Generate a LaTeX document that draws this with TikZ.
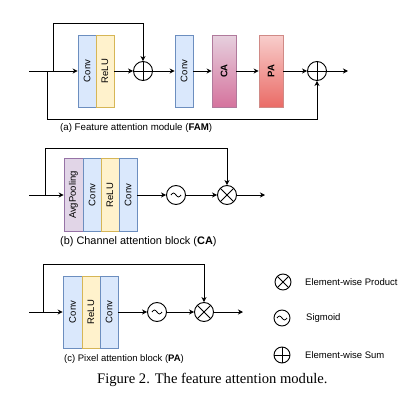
\documentclass[tikz,border=0pt]{standalone}
\usepackage{fontspec}
\setmainfont{Liberation Sans}
\newfontfamily\serifcap{Liberation Serif}
\usetikzlibrary{arrows.meta}
\definecolor{convfill}{HTML}{DAE8FC}
\definecolor{convdraw}{HTML}{6C8EBF}
\definecolor{relufill}{HTML}{FFF2CC}
\definecolor{reludraw}{HTML}{D6B656}
\definecolor{avgfill}{HTML}{E1D5E7}
\definecolor{avgdraw}{HTML}{9673A6}
\definecolor{catop}{HTML}{E6D0DE}
\definecolor{cabot}{HTML}{D5739D}
\definecolor{cadraw}{HTML}{B07A9C}
\definecolor{patop}{HTML}{F8CECC}
\definecolor{pabot}{HTML}{EA6B66}
\definecolor{padraw}{HTML}{D08A86}
\begin{document}
\begin{tikzpicture}[x=1pt,y=-1pt,
  blk/.style={draw, line width=0.6pt, inner sep=0, minimum width=18pt, minimum height=72pt, font=\fontsize{9.5}{11}\selectfont},
  conv/.style={blk, fill=convfill, draw=convdraw},
  relu/.style={blk, fill=relufill, draw=reludraw},
  avg/.style={blk, fill=avgfill, draw=avgdraw},
  cablk/.style={blk, top color=catop, bottom color=cabot, draw=cadraw, minimum width=24pt},
  pablk/.style={blk, top color=patop, bottom color=pabot, draw=padraw, minimum width=24pt},
  opc/.style={circle, draw, line width=0.9pt, minimum size=19pt, inner sep=0},
  opplus/.style={opc, path picture={\draw[line width=0.9pt] (path picture bounding box.north) -- (path picture bounding box.south) (path picture bounding box.west) -- (path picture bounding box.east);}},
  optimes/.style={opc, path picture={\draw[line width=0.9pt] (path picture bounding box.north east) -- (path picture bounding box.south west) (path picture bounding box.north west) -- (path picture bounding box.south east);}},
  opsig/.style={opc, path picture={\draw[line width=0.8pt] ([xshift=-5pt]path picture bounding box.center) sin ++(2.5pt,2pt) cos ++(2.5pt,-2pt) sin ++(2.5pt,-2pt) cos ++(2.5pt,2pt);}},
  arr/.style={line width=0.9pt, -{Stealth[length=5pt,width=5pt,inset=1.5pt]}},
  captxt/.style={anchor=west, inner sep=0},
  legtxt/.style={anchor=west, inner sep=0, font=\fontsize{9.5}{11}\selectfont}
]
\useasboundingbox (0,0) rectangle (416,407);

% (a) FAM
\coordinate (ain) at (29,71);
\coordinate (askA) at (53,71);
\coordinate (askAt) at (53,23);
\coordinate (askB) at (47,71);
\coordinate (askBb) at (47,119);
\node[conv] (aconv1) at (87,71) {\rotatebox{90}{Conv}};
\node[relu] (arelu) at (105,71) {\rotatebox{90}{ReLU}};
\node[opplus] (aplus1) at (143,71) {};
\node[conv] (aconv2) at (184,71) {\rotatebox{90}{Conv}};
\node[cablk] (aca) at (224,71) {\rotatebox{90}{\textbf{CA}}};
\node[pablk] (apa) at (271,71) {\rotatebox{90}{\textbf{PA}}};
\node[opplus] (aplus2) at (317,71) {};
\coordinate (aout) at (348,71);
\draw[arr] (ain) -- (aconv1);
\draw[arr] (askA) -- (askAt) -| (aplus1);
\draw[arr] (askB) -- (askBb) -| (aplus2);
\draw[arr] (arelu) -- (aplus1);
\draw[arr] (aplus1) -- (aconv2);
\draw[arr] (aconv2) -- (aca);
\draw[arr] (aca) -- (apa);
\draw[arr] (apa) -- (aplus2);
\draw[arr] (aplus2) -- (aout);
\node[captxt, font=\fontsize{9.7}{11}\selectfont] (acap) at (60,128) {(a) Feature attention module (\textbf{FAM})};

% (b) CA
\coordinate (bin) at (29,195);
\coordinate (bsk) at (45,195);
\coordinate (bskt) at (45,148);
\node[avg, minimum width=19pt, minimum height=73pt] (bavg) at (73.5,195) {\rotatebox{90}{AvgPooling}};
\node[conv, minimum height=73pt] (bconv1) at (92,195) {\rotatebox{90}{Conv}};
\node[relu, minimum height=73pt] (brelu) at (110,195) {\rotatebox{90}{ReLU}};
\node[conv, minimum height=73pt] (bconv2) at (128,195) {\rotatebox{90}{Conv}};
\node[opsig] (bsig) at (176,195) {};
\node[optimes] (btimes) at (227,195) {};
\coordinate (bout) at (265,195);
\draw[arr] (bin) -- (bavg);
\draw[arr] (bsk) -- (bskt) -| (btimes);
\draw[arr] (bconv2) -- (bsig);
\draw[arr] (bsig) -- (btimes);
\draw[arr] (btimes) -- (bout);
\node[captxt, font=\fontsize{10.9}{12}\selectfont] (bcap) at (60,242) {(b) Channel attention block (\textbf{CA})};

% (c) PA
\coordinate (cin) at (29,312);
\coordinate (csk) at (43,312);
\coordinate (cskt) at (43,264);
\node[conv, minimum width=19pt] (cconv1) at (72.5,312) {\rotatebox{90}{Conv}};
\node[relu] (crelu) at (91,312) {\rotatebox{90}{ReLU}};
\node[conv] (cconv2) at (109,312) {\rotatebox{90}{Conv}};
\node[opsig] (csig) at (157,312) {};
\node[optimes] (ctimes) at (204,312) {};
\coordinate (cout) at (243,312);
\draw[arr] (cin) -- (cconv1);
\draw[arr] (csk) -- (cskt) -| (ctimes);
\draw[arr] (cconv2) -- (csig);
\draw[arr] (csig) -- (ctimes);
\draw[arr] (ctimes) -- (cout);
\node[captxt, font=\fontsize{9.5}{11}\selectfont] (ccap) at (64,359) {(c) Pixel attention block (\textbf{PA})};

% legend
\node[optimes, minimum size=16pt] (ltimes) at (283,282) {};
\node[legtxt] (ltimestxt) at (305,282) {Element-wise Product};
\node[opsig, minimum size=16pt] (lsig) at (282,318) {};
\node[legtxt] (lsigtxt) at (306,318) {Sigmoid};
\node[opplus, minimum size=16pt] (lplus) at (282,355) {};
\node[legtxt] (lplustxt) at (305,355) {Element-wise Sum};

% figure caption
\node[captxt, font=\serifcap\fontsize{14.6}{16}\selectfont] (figcap) at (97,380) {Figure 2. The feature attention module.};
\end{tikzpicture}
\end{document}
